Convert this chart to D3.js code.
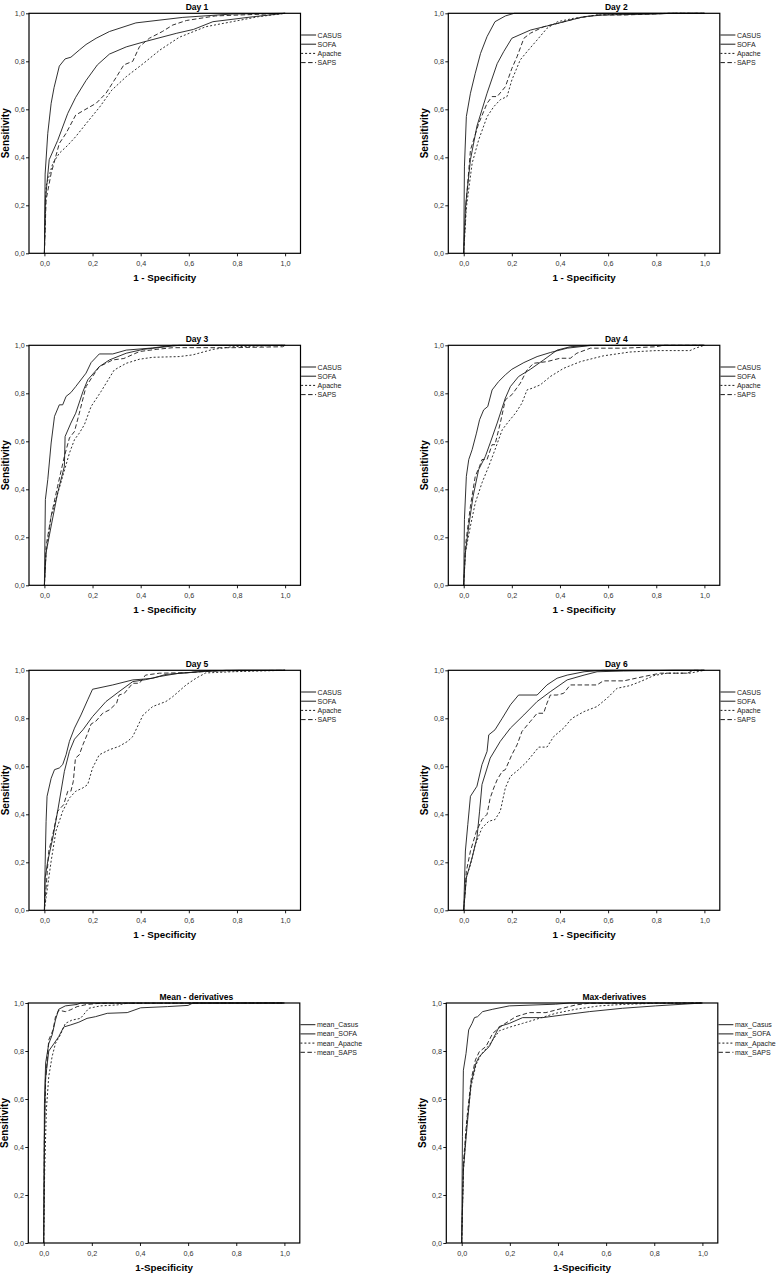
<!DOCTYPE html>
<html>
<head>
<meta charset="utf-8">
<script src="https://cdn.jsdelivr.net/npm/d3@7"></script>
<style>
  body { margin: 0; background: #fff; }
  svg { display: block; }
</style>
</head>
<body>
<div id="chart"></div>
<script>
// Panel titles, legend labels, tick labels
const panelTitles = ['Day 1', 'Day 2', 'Day 3', 'Day 4', 'Day 5', 'Day 6', 'Mean - derivatives', 'Max-derivatives'];
const dayLegend = ['CASUS', 'SOFA', 'Apache', 'SAPS'];
const meanLegend = ['mean_Casus', 'mean_SOFA', 'mean_Apache', 'mean_SAPS'];
const maxLegend = ['max_Casus', 'max_SOFA', 'max_Apache', 'max_SAPS'];
const tickValues = [0, 0.2, 0.4, 0.6, 0.8, 1];
const tickLabels = ['0,0', '0,2', '0,4', '0,6', '0,8', '1,0'];

// ROC curves: [1 - specificity, sensitivity]
const day1_CASUS = [[0,0],[0.003,0.33],[0.014,0.5],[0.028,0.625],[0.04,0.69],[0.062,0.78],[0.086,0.81],[0.11,0.817],[0.145,0.847],[0.173,0.87],[0.215,0.896],[0.27,0.924],[0.38,0.96],[0.575,0.983],[0.78,0.997],[1,1]];
const day1_SOFA = [[0,0],[0.004,0.22],[0.02,0.39],[0.055,0.47],[0.097,0.583],[0.13,0.65],[0.173,0.72],[0.22,0.785],[0.27,0.83],[0.34,0.86],[0.41,0.88],[0.55,0.917],[0.62,0.933],[0.7,0.965],[0.87,0.986],[1,1]];
const day1_Apache = [[0,0],[0.007,0.28],[0.035,0.375],[0.062,0.417],[0.097,0.45],[0.13,0.486],[0.173,0.54],[0.23,0.61],[0.28,0.68],[0.34,0.736],[0.41,0.79],[0.48,0.847],[0.56,0.9],[0.67,0.944],[0.78,0.965],[0.89,0.986],[1,1]];
const day1_SAPS = [[0,0],[0.007,0.222],[0.028,0.333],[0.062,0.458],[0.09,0.5],[0.13,0.576],[0.166,0.597],[0.215,0.625],[0.256,0.667],[0.3,0.736],[0.33,0.785],[0.367,0.8],[0.395,0.861],[0.436,0.896],[0.49,0.924],[0.533,0.951],[0.59,0.97],[0.71,0.989],[0.92,0.997],[1,1]];

const day2_CASUS = [[0,0],[0.003,0.36],[0.011,0.57],[0.028,0.667],[0.048,0.75],[0.07,0.833],[0.097,0.903],[0.13,0.965],[0.173,0.989],[0.21,1],[1,1]];
const day2_SOFA = [[0,0],[0.007,0.19],[0.028,0.39],[0.055,0.53],[0.097,0.667],[0.139,0.79],[0.166,0.84],[0.2,0.896],[0.277,0.93],[0.39,0.958],[0.5,0.986],[0.58,0.993],[0.8,0.997],[0.86,1],[1,1]];
const day2_Apache = [[0,0],[0.011,0.19],[0.035,0.375],[0.062,0.472],[0.097,0.569],[0.125,0.611],[0.152,0.64],[0.18,0.653],[0.2,0.722],[0.235,0.806],[0.263,0.84],[0.305,0.889],[0.346,0.9375],[0.39,0.965],[0.457,0.979],[0.554,0.993],[0.69,0.997],[0.86,1],[1,1]];
const day2_SAPS = [[0,0],[0.011,0.222],[0.028,0.43],[0.062,0.54],[0.097,0.625],[0.118,0.653],[0.139,0.653],[0.173,0.694],[0.2,0.77],[0.222,0.82],[0.25,0.896],[0.277,0.917],[0.332,0.944],[0.39,0.958],[0.47,0.979],[0.554,0.993],[0.67,0.993],[0.86,1],[1,1]];

const day3_CASUS = [[0,0],[0.004,0.357],[0.014,0.44],[0.028,0.593],[0.042,0.704],[0.062,0.752],[0.076,0.752],[0.09,0.787],[0.11,0.803],[0.13,0.828],[0.173,0.884],[0.194,0.928],[0.228,0.964],[0.284,0.964],[0.34,0.98],[0.45,0.989],[0.533,1],[1,1]];
const day3_SOFA = [[0,0],[0.007,0.136],[0.028,0.247],[0.055,0.385],[0.083,0.496],[0.086,0.62],[0.11,0.676],[0.13,0.717],[0.16,0.807],[0.18,0.856],[0.228,0.911],[0.27,0.939],[0.34,0.967],[0.41,0.983],[0.505,0.994],[0.56,1],[1,1]];
const day3_Apache = [[0,0],[0.007,0.136],[0.028,0.288],[0.048,0.357],[0.076,0.454],[0.104,0.551],[0.125,0.607],[0.145,0.634],[0.166,0.669],[0.194,0.745],[0.235,0.807],[0.29,0.897],[0.34,0.925],[0.395,0.942],[0.45,0.95],[0.56,0.953],[0.616,0.96],[0.7,0.983],[0.78,0.994],[1,1]];
const day3_SAPS = [[0,0],[0.007,0.163],[0.028,0.288],[0.055,0.413],[0.083,0.537],[0.104,0.614],[0.125,0.641],[0.145,0.717],[0.173,0.828],[0.2,0.87],[0.228,0.911],[0.284,0.939],[0.33,0.945],[0.395,0.974],[0.464,0.983],[0.533,0.99],[0.78,0.99],[0.99,0.994],[1,1]];

const day4_CASUS = [[0,0],[0.003,0.274],[0.011,0.454],[0.021,0.524],[0.035,0.565],[0.053,0.634],[0.066,0.69],[0.083,0.731],[0.1,0.745],[0.118,0.814],[0.145,0.849],[0.173,0.877],[0.2,0.9],[0.25,0.928],[0.305,0.953],[0.36,0.97],[0.43,0.988],[0.526,0.999],[1,1]];
const day4_SOFA = [[0,0],[0.007,0.136],[0.021,0.247],[0.039,0.371],[0.062,0.482],[0.09,0.537],[0.11,0.593],[0.139,0.676],[0.173,0.78],[0.194,0.828],[0.228,0.87],[0.277,0.9],[0.332,0.939],[0.388,0.98],[0.443,0.994],[0.526,1],[1,1]];
const day4_Apache = [[0,0],[0.007,0.136],[0.028,0.247],[0.048,0.343],[0.076,0.427],[0.104,0.496],[0.13,0.565],[0.16,0.648],[0.187,0.683],[0.215,0.717],[0.242,0.759],[0.263,0.814],[0.284,0.821],[0.318,0.835],[0.36,0.87],[0.415,0.904],[0.485,0.932],[0.58,0.956],[0.69,0.972],[0.8,0.978],[0.94,0.978],[0.963,0.988],[1,1]];
const day4_SAPS = [[0,0],[0.007,0.163],[0.028,0.33],[0.048,0.454],[0.066,0.496],[0.076,0.524],[0.097,0.524],[0.118,0.586],[0.13,0.586],[0.152,0.676],[0.173,0.773],[0.2,0.794],[0.235,0.842],[0.263,0.897],[0.29,0.925],[0.346,0.932],[0.4,0.946],[0.443,0.946],[0.47,0.967],[0.526,0.988],[0.665,0.988],[0.8,0.994],[0.83,1],[1,1]];

const day5_CASUS = [[0,0],[0.003,0.19],[0.007,0.37],[0.011,0.475],[0.028,0.55],[0.042,0.586],[0.062,0.593],[0.076,0.607],[0.09,0.648],[0.104,0.704],[0.125,0.759],[0.152,0.814],[0.18,0.877],[0.2,0.921],[0.284,0.939],[0.367,0.96],[0.41,0.963],[0.45,0.967],[0.505,0.983],[0.6,0.99],[0.67,0.997],[0.81,1],[1,1]];
const day5_SOFA = [[0,0],[0.003,0.136],[0.014,0.205],[0.035,0.302],[0.055,0.413],[0.083,0.579],[0.104,0.662],[0.125,0.713],[0.16,0.752],[0.2,0.807],[0.256,0.87],[0.31,0.911],[0.367,0.953],[0.42,0.961],[0.478,0.974],[0.56,0.988],[0.645,0.994],[0.755,1],[1,1]];
const day5_Apache = [[0,0],[0.007,0.053],[0.028,0.205],[0.048,0.33],[0.076,0.413],[0.104,0.468],[0.13,0.496],[0.16,0.51],[0.18,0.524],[0.2,0.593],[0.228,0.648],[0.27,0.669],[0.31,0.683],[0.346,0.704],[0.367,0.724],[0.41,0.814],[0.45,0.849],[0.505,0.87],[0.533,0.89],[0.59,0.94],[0.63,0.967],[0.67,0.989],[0.78,0.994],[1,1]];
const day5_SAPS = [[0,0],[0.007,0.094],[0.018,0.246],[0.035,0.316],[0.055,0.413],[0.08,0.44],[0.097,0.496],[0.11,0.496],[0.12,0.537],[0.129,0.634],[0.145,0.648],[0.16,0.69],[0.18,0.738],[0.194,0.776],[0.215,0.789],[0.242,0.821],[0.27,0.835],[0.3,0.863],[0.31,0.897],[0.332,0.904],[0.367,0.946],[0.395,0.946],[0.42,0.98],[0.478,0.988],[0.59,0.99],[0.7,0.997],[1,1]];

const day6_CASUS = [[0,0],[0.007,0.247],[0.017,0.357],[0.028,0.475],[0.055,0.517],[0.076,0.607],[0.097,0.662],[0.104,0.731],[0.13,0.752],[0.16,0.8],[0.194,0.856],[0.228,0.897],[0.305,0.897],[0.346,0.939],[0.388,0.967],[0.43,0.98],[0.5,0.994],[0.58,1],[1,1]];
const day6_SOFA = [[0,0],[0.011,0.136],[0.035,0.219],[0.055,0.302],[0.066,0.413],[0.076,0.524],[0.11,0.634],[0.152,0.704],[0.194,0.759],[0.25,0.814],[0.305,0.87],[0.36,0.911],[0.43,0.96],[0.5,0.98],[0.554,0.994],[0.665,0.997],[0.87,1],[1,1]];
const day6_Apache = [[0,0],[0.011,0.136],[0.028,0.19],[0.048,0.274],[0.076,0.343],[0.104,0.371],[0.13,0.378],[0.152,0.413],[0.173,0.51],[0.194,0.558],[0.228,0.586],[0.263,0.62],[0.312,0.68],[0.346,0.68],[0.374,0.724],[0.415,0.759],[0.45,0.8],[0.5,0.828],[0.554,0.849],[0.596,0.884],[0.637,0.925],[0.69,0.936],[0.734,0.953],[0.79,0.978],[0.845,0.988],[0.94,0.988],[1,1]];
const day6_SAPS = [[0,0],[0.011,0.163],[0.028,0.247],[0.053,0.33],[0.076,0.378],[0.097,0.4],[0.11,0.468],[0.125,0.51],[0.139,0.544],[0.16,0.579],[0.173,0.586],[0.2,0.648],[0.222,0.69],[0.242,0.745],[0.277,0.787],[0.305,0.821],[0.332,0.821],[0.346,0.863],[0.36,0.897],[0.388,0.897],[0.415,0.904],[0.443,0.939],[0.554,0.939],[0.58,0.956],[0.665,0.956],[0.748,0.974],[0.817,0.988],[0.93,0.988],[0.955,1],[1,1]];

const mean_Casus = [[0,0],[0.003,0.58],[0.008,0.75],[0.021,0.83],[0.035,0.867],[0.049,0.93],[0.0625,0.974],[0.09,0.988],[0.139,0.994],[0.153,1],[1,1]];
const mean_SOFA = [[0,0],[0.003,0.44],[0.007,0.68],[0.021,0.8],[0.042,0.83],[0.0625,0.86],[0.083,0.9],[0.11,0.908],[0.146,0.92],[0.18,0.936],[0.215,0.943],[0.264,0.957],[0.347,0.96],[0.403,0.98],[0.514,0.985],[0.6,0.99],[0.62,1],[1,1]];
const mean_Apache = [[0,0],[0.004,0.3],[0.011,0.555],[0.021,0.694],[0.035,0.777],[0.049,0.832],[0.069,0.867],[0.09,0.915],[0.118,0.929],[0.153,0.936],[0.1875,0.978],[0.236,0.988],[0.306,0.992],[0.347,0.999],[1,1]];
const mean_SAPS = [[0,0],[0.003,0.44],[0.008,0.68],[0.021,0.846],[0.039,0.888],[0.049,0.943],[0.0625,0.97],[0.09,0.964],[0.11,0.971],[0.139,0.985],[0.18,0.994],[0.236,0.999],[1,1]];

const max_Casus = [[0,0],[0.003,0.444],[0.007,0.72],[0.018,0.79],[0.029,0.888],[0.043,0.915],[0.053,0.939],[0.066,0.943],[0.087,0.964],[0.129,0.974],[0.198,0.988],[0.39,0.995],[0.447,1],[1,1]];
const max_SOFA = [[0,0],[0.007,0.305],[0.021,0.472],[0.039,0.666],[0.059,0.749],[0.073,0.777],[0.115,0.819],[0.156,0.902],[0.198,0.915],[0.253,0.939],[0.336,0.939],[0.419,0.95],[0.53,0.964],[0.668,0.978],[0.806,0.988],[1,1]];
const max_Apache = [[0,0],[0.007,0.3],[0.021,0.5],[0.039,0.652],[0.059,0.742],[0.08,0.784],[0.115,0.826],[0.156,0.884],[0.198,0.899],[0.253,0.915],[0.322,0.936],[0.39,0.957],[0.474,0.974],[0.571,0.988],[0.668,0.994],[0.806,0.999],[1,1]];
const max_SAPS = [[0,0],[0.007,0.333],[0.021,0.513],[0.039,0.68],[0.057,0.763],[0.073,0.797],[0.101,0.819],[0.129,0.874],[0.17,0.908],[0.225,0.943],[0.28,0.96],[0.35,0.96],[0.419,0.978],[0.474,0.992],[0.53,0.999],[1,1]];

// Layout
const width = 783, height = 1276;
const boxW = 271.5, boxH = 240;
const xDomain = [-0.064, 1.064];
const fontFamily = '"Liberation Sans", Arial, Helvetica, sans-serif';
const dashes = [null, null, '2,2', '4.5,2.5'];
const ink = '#1b1b1b';

const panels = [
    { title: panelTitles[0], series: [day1_CASUS, day1_SOFA, day1_Apache, day1_SAPS], legend: dayLegend, xTitle: '1 - Specificity', left: 29, top: 13.3 },
    { title: panelTitles[1], series: [day2_CASUS, day2_SOFA, day2_Apache, day2_SAPS], legend: dayLegend, xTitle: '1 - Specificity', left: 448.3, top: 13.3 },
    { title: panelTitles[2], series: [day3_CASUS, day3_SOFA, day3_Apache, day3_SAPS], legend: dayLegend, xTitle: '1 - Specificity', left: 29, top: 345.3 },
    { title: panelTitles[3], series: [day4_CASUS, day4_SOFA, day4_Apache, day4_SAPS], legend: dayLegend, xTitle: '1 - Specificity', left: 448.3, top: 345.3 },
    { title: panelTitles[4], series: [day5_CASUS, day5_SOFA, day5_Apache, day5_SAPS], legend: dayLegend, xTitle: '1 - Specificity', left: 29, top: 670.3 },
    { title: panelTitles[5], series: [day6_CASUS, day6_SOFA, day6_Apache, day6_SAPS], legend: dayLegend, xTitle: '1 - Specificity', left: 448.3, top: 670.3 },
    { title: panelTitles[6], series: [mean_Casus, mean_SOFA, mean_Apache, mean_SAPS], legend: meanLegend, xTitle: '1-Specificity', left: 28.3, top: 1003 },
    { title: panelTitles[7], series: [max_Casus, max_SOFA, max_Apache, max_SAPS], legend: maxLegend, xTitle: '1-Specificity', left: 446.3, top: 1003 }
];

const svg = d3.select('#chart')
    .append('svg')
    .attr('width', width)
    .attr('height', height)
    .style('font-family', fontFamily);

svg.append('rect').attr('width', width).attr('height', height).attr('fill', '#fff');

panels.forEach(drawPanel);

function drawPanel(p) {
    const g = svg.append('g');
    const bottom = p.top + boxH;
    const right = p.left + boxW;

    const x = d3.scaleLinear().domain(xDomain).range([p.left, right]);
    const y = d3.scaleLinear().domain([0, 1]).range([bottom, p.top]);

    // Axes with short outward ticks
    const xAxis = g.append('g')
        .attr('transform', 'translate(0,' + bottom + ')')
        .call(d3.axisBottom(x).tickValues(tickValues).tickFormat((d, i) => tickLabels[i]).tickSize(3).tickPadding(4.5));
    const yAxis = g.append('g')
        .attr('transform', 'translate(' + p.left + ',0)')
        .call(d3.axisLeft(y).tickValues(tickValues).tickFormat((d, i) => tickLabels[i]).tickSize(3).tickPadding(1.2));
    [xAxis, yAxis].forEach(a => {
        a.select('.domain').remove();
        a.attr('font-family', fontFamily).attr('font-size', 7.2);
        a.selectAll('.tick line').attr('stroke', '#000').attr('stroke-width', 0.9);
        a.selectAll('text').attr('fill', '#333');
    });

    // Curves
    const line = d3.line().x(d => x(d[0])).y(d => y(d[1]));
    p.series.forEach((s, i) => {
        g.append('path')
            .attr('d', line(s))
            .attr('fill', 'none')
            .attr('stroke', ink)
            .attr('stroke-width', 0.9)
            .attr('stroke-dasharray', dashes[i]);
    });

    // Frame
    g.append('rect')
        .attr('x', p.left).attr('y', p.top)
        .attr('width', boxW).attr('height', boxH)
        .attr('fill', 'none')
        .attr('stroke', '#000')
        .attr('stroke-width', 1.2);

    // Title
    g.append('text')
        .attr('x', p.left + 168)
        .attr('y', p.top - 3)
        .attr('text-anchor', 'middle')
        .attr('font-size', 8.5)
        .attr('font-weight', 'bold')
        .text(p.title);

    // Axis titles
    g.append('text')
        .attr('x', x(0.5))
        .attr('y', bottom + 28)
        .attr('text-anchor', 'middle')
        .attr('font-size', 9.8)
        .attr('font-weight', 'bold')
        .text(p.xTitle);
    g.append('text')
        .attr('transform', 'translate(' + (p.left - 20.5) + ',' + (p.top + boxH / 2) + ') rotate(-90)')
        .attr('text-anchor', 'middle')
        .attr('font-size', 10)
        .attr('font-weight', 'bold')
        .text('Sensitivity');

    // Legend, lines attached to the frame
    const legend = g.append('g').attr('transform', 'translate(' + (right + 0.6) + ',' + (p.top + 21.7) + ')');
    p.legend.forEach((name, i) => {
        const ly = i * 9.2;
        legend.append('line')
            .attr('x1', 0).attr('x2', 15)
            .attr('y1', ly).attr('y2', ly)
            .attr('stroke', ink)
            .attr('stroke-width', 1)
            .attr('stroke-dasharray', dashes[i]);
        legend.append('text')
            .attr('x', 16.5)
            .attr('y', ly + 2.5)
            .attr('font-size', 7)
            .attr('fill', '#222')
            .text(name);
    });
}
</script>
</body>
</html>
